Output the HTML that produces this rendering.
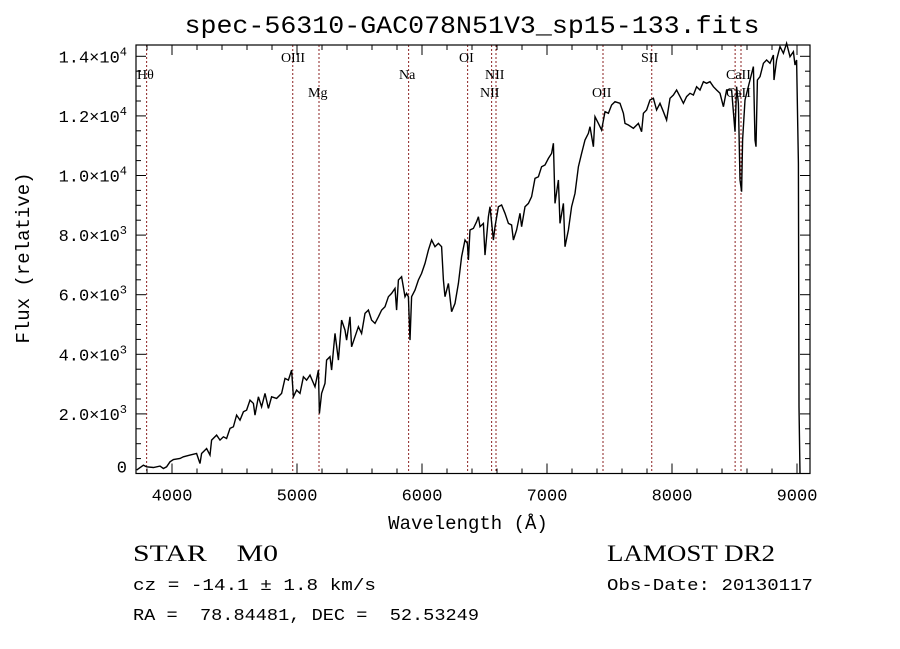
<!DOCTYPE html>
<html><head><meta charset="utf-8"><style>
body{margin:0;background:#fff}
svg{display:block}
text{font-family:"Liberation Mono",monospace;fill:#000;white-space:pre}
</style></head><body>
<svg id="chart" width="900" height="649" viewBox="0 0 900 649" xmlns="http://www.w3.org/2000/svg" xml:space="preserve">
<rect width="900" height="649" fill="#fff"/>
<text x="472" y="33" text-anchor="middle" font-size="25" textLength="575" lengthAdjust="spacingAndGlyphs">spec-56310-GAC078N51V3_sp15-133.fits</text>
<text x="468" y="529" text-anchor="middle" font-size="19">Wavelength (Å)</text>
<text transform="translate(29,258) rotate(-90)" text-anchor="middle" font-size="19">Flux (relative)</text>
<text x="133" y="561" font-size="23" style="font-family:'Liberation Serif',serif" textLength="145" lengthAdjust="spacingAndGlyphs">STAR    M0</text>
<text x="133" y="590" font-size="17" textLength="243" lengthAdjust="spacingAndGlyphs">cz = -14.1 ± 1.8 km/s</text>
<text x="133" y="620" font-size="17" textLength="346" lengthAdjust="spacingAndGlyphs">RA =  78.84481, DEC =  52.53249</text>
<text x="607" y="561" font-size="23" style="font-family:'Liberation Serif',serif" textLength="168" lengthAdjust="spacingAndGlyphs">LAMOST DR2</text>
<text x="607" y="590" font-size="17" textLength="206" lengthAdjust="spacingAndGlyphs">Obs-Date: 20130117</text>
<g id="plot"></g>
</svg>
<script>
const wavelengths=[3717,3771,3797,3851,3904,3931,3957,3984,4011,4064,4091,4144,4197,4224,4237,4277,4304,4317,4357,4384,4411,4437,4464,4491,4517,4544,4571,4597,4624,4651,4664,4691,4717,4744,4771,4797,4837,4877,4904,4931,4957,4971,4997,5024,5051,5077,5104,5144,5171,5179,5197,5224,5237,5264,5277,5304,5331,5357,5384,5397,5424,5437,5464,5491,5517,5544,5571,5597,5624,5651,5677,5704,5731,5757,5784,5797,5811,5837,5864,5877,5891,5904,5917,5944,5971,5997,6024,6051,6077,6104,6131,6157,6171,6184,6211,6237,6264,6291,6317,6344,6363,6371,6384,6411,6437,6451,6464,6491,6504,6531,6544,6571,6584,6611,6637,6664,6691,6717,6731,6757,6784,6797,6824,6851,6877,6904,6931,6957,6984,7011,7037,7051,7064,7091,7104,7131,7144,7171,7197,7224,7251,7277,7304,7331,7344,7371,7384,7411,7437,7464,7491,7517,7544,7584,7611,7624,7651,7691,7731,7757,7771,7797,7824,7851,7877,7904,7931,7957,7984,8011,8037,8064,8091,8117,8144,8171,8197,8224,8251,8277,8304,8331,8357,8384,8411,8437,8477,8504,8517,8531,8544,8557,8565,8584,8624,8651,8664,8672,8683,8704,8731,8757,8784,8811,8816,8837,8864,8891,8917,8944,8971,8984,8997,9011,9016,9024];
const flux=[113,280,225,202,247,169,225,393,471,505,561,617,672,337,672,840,617,1120,1288,1120,1232,1176,1512,1568,1960,1792,2071,2127,2463,2351,1960,2575,2239,2687,2183,2575,2519,2687,3190,3134,3470,2575,2799,2687,3246,3134,3302,2910,3470,2015,2687,3022,3806,3918,3470,4701,3806,5148,4813,4477,5260,4253,4589,4925,4701,5372,5484,5148,5037,5260,5484,5596,5932,6044,6212,5484,6492,6603,5932,6044,5932,4477,5932,6156,6492,6715,7051,7498,7834,7610,7722,7610,6492,5932,6380,5428,5708,6380,7275,7834,7722,7163,8170,8226,8450,8617,8282,8394,7330,8617,8953,7834,8282,8953,9009,8730,8394,8338,7834,8170,8730,8282,8953,9065,9289,9904,9960,10296,10352,10575,10743,11079,9065,9848,8394,9065,7610,8170,8953,9401,10296,10743,11191,11415,11639,10967,11974,11750,11527,12142,12086,12366,12478,12422,12086,11750,11695,11583,11750,11471,12086,12198,12534,12590,12198,12422,12142,11862,12590,12702,12870,12646,12422,12646,12758,12702,12981,12870,13149,13093,13149,12981,12870,12758,12310,12870,12870,11471,12981,12422,9848,9457,11191,12534,13205,13653,11191,10967,13205,13317,13765,13877,13765,14044,13205,13877,14324,14100,14436,13988,14156,13709,13877,10408,2239,0];
const lineNames=["Hθ","OIII","Mg","Na","OI","NII","NII","OII","SII","CaII","CaII"];
const lineWaves=[3797,4966,5176,5893,6365,6557,6592,7448,7838,8505,8552];
const xTicks=[4000,5000,6000,7000,8000,9000];
const yTicks=[0,2000,4000,6000,8000,10000,12000,14000];
const yTickLabels=["0","2.0","4.0","6.0","8.0","1.0","1.2","1.4"];
const yTickExps=["","3","3","3","3","4","4","4"];

const L=136,R=810,T=45,B=473.5;
const X=w=>172+(w-4000)*0.125;
const Y=v=>473.5-v*0.0298;
const NS="http://www.w3.org/2000/svg";
const g=document.getElementById('plot');
function mk(t,a){const e=document.createElementNS(NS,t);for(const k in a)e.setAttribute(k,a[k]);g.appendChild(e);return e;}

lineWaves.forEach((w,i)=>{
  const l=mk('line',{x1:X(w),x2:X(w),y1:T,y2:B,stroke:'#8b2020','stroke-width':1,'stroke-dasharray':'2,2'});
  
  
});
const labelPos=[[137,79,'start'],[293,62,'middle'],[308,97,'start'],[399,79,'start'],[459,62,'start'],[485,79,'start'],[480,97,'start'],[592,97,'start'],[641,62,'start'],[726,79,'start'],[726,97,'start']];
lineNames.forEach((n,i)=>{
  const p=labelPos[i];
  const t=mk('text',{x:p[0],y:p[1],'text-anchor':p[2],'font-size':14,style:"font-family:'Liberation Serif',serif"});
  t.textContent=n;
  
  
});

let d='';
wavelengths.forEach((w,i)=>{d+=(i?'L':'M')+X(w).toFixed(1)+','+Y(flux[i]).toFixed(1);});
const sp=mk('path',{d:d,fill:'none',stroke:'#000','stroke-width':1.4});



const fr=mk('rect',{x:L,y:T,width:R-L,height:B-T,fill:'none',stroke:'#000','stroke-width':1.2});



for(let w=3800;w<=9100;w+=200){
  const x=X(w); if(x<L||x>R)continue;
  const len=(w%1000===0)?10:5;
  mk('line',{x1:x,x2:x,y1:B,y2:B-len,stroke:'#000'});
  mk('line',{x1:x,x2:x,y1:T,y2:T+len,stroke:'#000'});
}
xTicks.forEach(w=>{
  const t=mk('text',{x:X(w),y:B+27,'text-anchor':'middle','font-size':17});
  t.textContent=w;
  
  
});
for(let v=0;v<=14500;v+=500){
  const y=Y(v); if(y<T)continue;
  const len=(v%2000===0)?10:5;
  mk('line',{x1:L,x2:L+len,y1:y,y2:y,stroke:'#000'});
  mk('line',{x1:R,x2:R-len,y1:y,y2:y,stroke:'#000'});
}
yTicks.forEach((v,i)=>{
  const t=mk('text',{x:127,y:Y(v)+(v===0?-1:6),'text-anchor':'end','font-size':17});
  
  
  if(yTickExps[i]){
    t.textContent=yTickLabels[i]+'×10';
    const s=document.createElementNS(NS,'tspan');
    s.setAttribute('dy','-7');s.setAttribute('font-size','12');
    s.textContent=yTickExps[i];
    t.appendChild(s);
  } else t.textContent=yTickLabels[i];
});
</script>
</body></html>
